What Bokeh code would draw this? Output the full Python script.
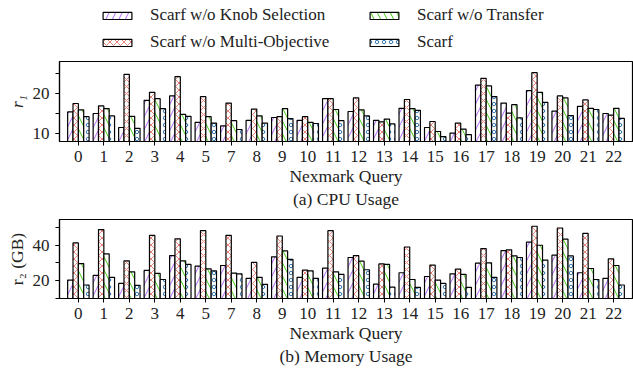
from bokeh.plotting import figure
from bokeh.models import (ColumnDataSource, FactorRange, Range1d, Legend, LegendItem,
                          SingleIntervalTicker)
from bokeh.transform import dodge
from bokeh.layouts import column
from bokeh.embed import file_html
from bokeh.resources import INLINE

FONT = "Liberation Serif"
TXT = "#222222"

queries = ["0", "1", "2", "3", "4", "5", "7", "8", "9", "10", "11", "12", "13",
           "14", "15", "16", "17", "18", "19", "20", "21", "22"]
series_names = ["Scarf w/o Knob Selection", "Scarf w/o Multi-Objective",
                "Scarf w/o Transfer", "Scarf"]

cpu_knob = [15.4, 15.0, 11.5, 18.3, 19.4, 12.8, 11.9, 13.3, 14.0, 13.3, 18.7,
            15.5, 13.3, 16.3, 11.5, 10.1, 22.1, 17.6, 20.7, 15.6, 16.8, 15.0]
cpu_multi = [17.5, 16.9, 24.8, 20.3, 24.2, 19.2, 17.6, 16.1, 14.2, 14.2, 18.7,
             18.9, 12.9, 18.5, 13.0, 12.6, 23.8, 15.1, 25.2, 19.4, 18.4, 14.6]
cpu_transfer = [15.9, 16.2, 14.3, 18.7, 14.8, 14.2, 13.2, 14.4, 16.2, 12.8, 16.0,
                15.9, 13.6, 16.2, 10.5, 11.1, 21.9, 17.2, 20.3, 18.9, 16.3, 16.3]
cpu_scarf = [14.2, 14.4, 11.3, 16.2, 14.3, 12.6, 11.0, 12.6, 13.7, 12.5, 13.2,
             14.4, 12.4, 15.8, 9.2, 9.7, 19.2, 13.9, 17.8, 14.5, 16.0, 13.8]

mem_knob = [20.4, 23.0, 18.5, 25.8, 34.2, 28.2, 28.6, 21.3, 33.5, 21.9, 27.1,
            33.1, 18.1, 24.5, 22.4, 23.9, 29.9, 37.0, 41.7, 34.4, 24.5, 21.3]
mem_multi = [41.3, 48.8, 31.2, 45.6, 43.6, 48.2, 45.6, 30.3, 45.2, 26.0, 48.2,
             34.2, 29.5, 39.0, 28.8, 26.5, 38.1, 37.4, 50.7, 49.7, 46.7, 32.3]
mem_transfer = [29.7, 35.1, 25.0, 24.1, 31.2, 26.7, 24.3, 21.9, 36.8, 25.6, 25.0,
                31.0, 29.2, 20.7, 20.4, 23.6, 30.1, 34.0, 40.0, 43.4, 26.9, 28.6]
mem_scarf = [17.6, 21.9, 17.4, 20.7, 29.2, 25.6, 23.9, 18.0, 32.0, 21.3, 23.6,
             26.2, 16.4, 16.3, 18.5, 16.3, 21.9, 33.1, 31.6, 34.0, 20.7, 17.6]

keys = ["knob", "multi", "transfer", "scarf"]
styles = [
    dict(hatch_pattern="/", hatch_color="#b266ff", hatch_scale=13),
    dict(hatch_pattern="x", hatch_color="#e8857a", hatch_scale=7),
    dict(hatch_pattern="\\", hatch_color="#44cc11", hatch_scale=13),
    dict(hatch_pattern="o", hatch_color="#3478b4", hatch_scale=7),
]
offsets = [-0.315, -0.105, 0.105, 0.315]
BAR_W = 0.21
W = 633
BL, BR = 59, 1


def bar_kwargs(st):
    return dict(fill_color="white", line_color="black", line_width=1.2,
                hatch_weight=1.0, **st)


def make_chart(vals, ymin, ymax, interval, ylabel, caption, height, btop, bbot):
    data = dict(query=queries)
    for k, v in zip(keys, vals):
        data[k] = v
    src = ColumnDataSource(data)
    p = figure(x_range=FactorRange(factors=queries, range_padding=0.24,
                                   range_padding_units="absolute"),
               y_range=Range1d(ymin, ymax), width=W, height=height,
               output_backend="svg", toolbar_location=None,
               min_border_left=BL, min_border_right=BR,
               min_border_top=btop, min_border_bottom=bbot)
    for k, off, st in zip(keys, offsets, styles):
        p.vbar(x=dodge("query", off, range=p.x_range), top=k, bottom=0,
               width=BAR_W, source=src, **bar_kwargs(st))
    p.xgrid.visible = False
    p.ygrid.visible = False
    p.outline_line_color = "black"
    p.outline_line_width = 1.2
    p.yaxis.ticker = SingleIntervalTicker(interval=interval, num_minor_ticks=2)
    for ax in (p.xaxis[0], p.yaxis[0]):
        ax.axis_line_color = "black"
        ax.axis_line_width = 1.2
        ax.major_tick_in = 0
        ax.major_tick_out = 4
        ax.minor_tick_in = 0
        ax.minor_tick_out = 4
        ax.major_tick_line_color = "black"
        ax.minor_tick_line_color = "black"
        ax.major_label_text_font = FONT
        ax.major_label_text_font_size = "17px"
        ax.major_label_text_color = TXT
        ax.axis_label_text_font = FONT
        ax.axis_label_text_font_size = "17.5px"
        ax.axis_label_text_color = TXT
        ax.axis_label_text_font_style = "normal"
    p.xaxis.major_label_standoff = 5
    p.xaxis.axis_label = "Nexmark Query\n" + caption
    p.xaxis.axis_label_text_line_height = 1.17
    p.xaxis.axis_label_text_align = "center"
    p.xaxis.axis_label_standoff = 1
    p.yaxis.axis_label = ylabel
    p.yaxis.major_label_standoff = 6
    p.yaxis.axis_label_standoff = 3
    return p


# legend strip
leg = figure(width=W, height=58, output_backend="svg", toolbar_location=None,
             x_range=Range1d(0, 1), y_range=Range1d(0, 1),
             min_border=0, outline_line_color=None)
leg.axis.visible = False
leg.grid.visible = False
dummy = ColumnDataSource(dict(x=[-5.0], top=[-5.0]))
rends = []
for st in styles:
    rends.append(leg.vbar(x="x", top="top", width=0.1, source=dummy,
                          **bar_kwargs(st)))


def make_legend(idx, loc):
    return Legend(items=[LegendItem(label=series_names[i], renderers=[rends[i]])
                         for i in idx],
                  location=loc, orientation="vertical",
                  glyph_width=36, glyph_height=9, label_height=18,
                  label_standoff=15, spacing=7, padding=0, margin=0,
                  border_line_alpha=0, background_fill_alpha=0,
                  label_text_font=FONT, label_text_font_size="17px",
                  label_text_color=TXT)


leg.add_layout(make_legend([0, 1], (40, 6)))
leg.add_layout(make_legend([2, 3], (307, 6)))

p1 = make_chart([cpu_knob, cpu_multi, cpu_transfer, cpu_scarf], 8, 28, 10,
                "r\u2081", "(a) CPU Usage", 155, 3, 72)
p1.yaxis.axis_label_text_font_style = "italic"
p2 = make_chart([mem_knob, mem_multi, mem_transfer, mem_scarf], 10, 54.5, 20,
                "r\u2082 (GB)", "(b) Memory Usage", 156, 6, 71)

layout = column(leg, p1, p2, spacing=0)
open("out.html", "w").write(file_html(layout, INLINE))
